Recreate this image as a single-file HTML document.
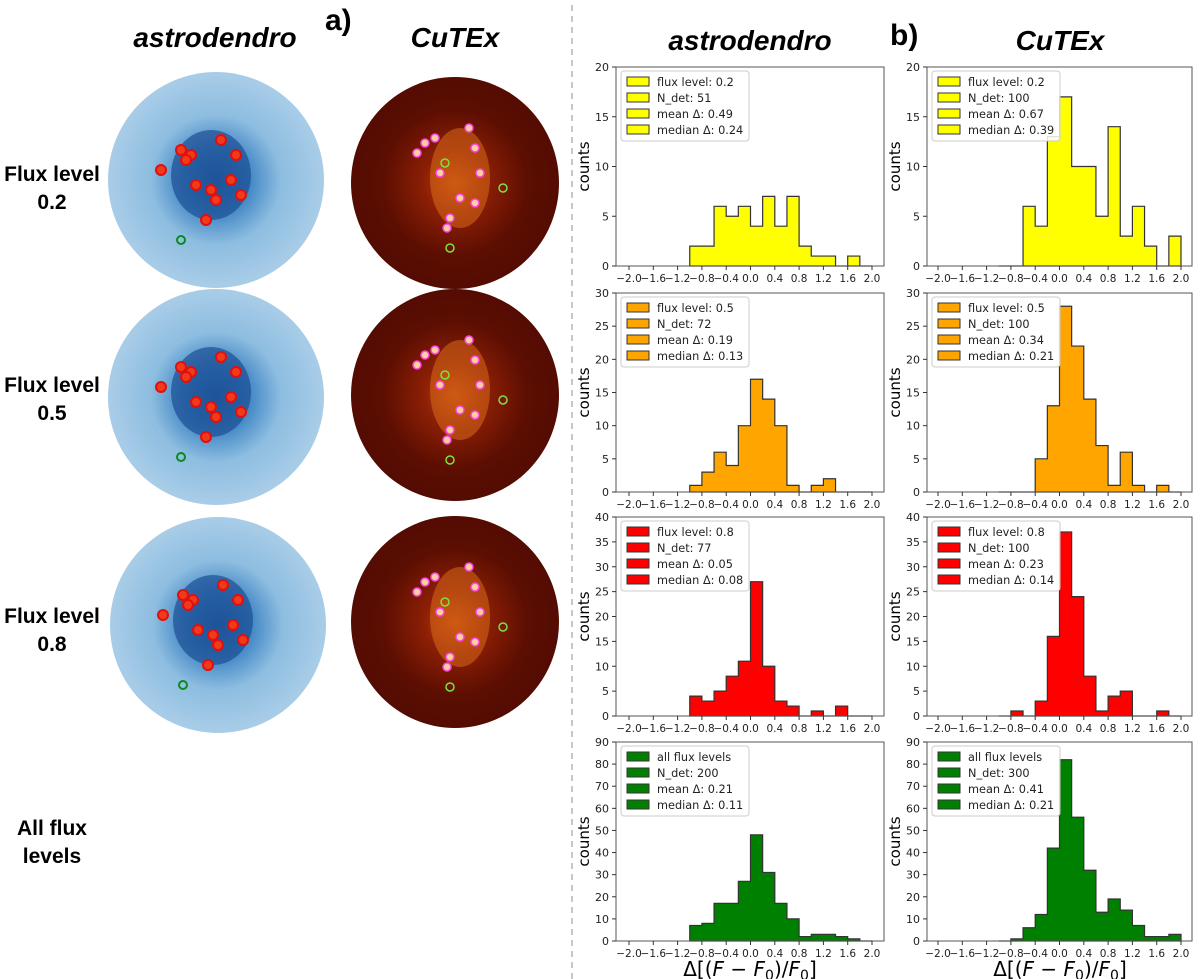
<!DOCTYPE html>
<html><head><meta charset="utf-8"><style>
body{margin:0;background:#fff;}
svg{display:block;font-family:"DejaVu Sans","Liberation Sans",sans-serif;}
.hd{font-family:"Liberation Sans",sans-serif;font-weight:bold;}
</style></head><body>
<svg id="fig" width="1200" height="979" viewBox="0 0 1200 979" xmlns="http://www.w3.org/2000/svg">
<defs>
<radialGradient id="blueG" cx="50%" cy="50%" r="50%">
<stop offset="0" stop-color="#1f5fa8"/><stop offset="0.3" stop-color="#3f85c4"/><stop offset="0.6" stop-color="#8dbde0"/><stop offset="1" stop-color="#a9cde8"/></radialGradient>
<radialGradient id="redG" cx="50%" cy="50%" r="50%">
<stop offset="0" stop-color="#c2460c"/><stop offset="0.3" stop-color="#8c1f05"/><stop offset="0.7" stop-color="#5c0e02"/><stop offset="1" stop-color="#540c02"/></radialGradient>
</defs>
<line x1="572" y1="5" x2="572" y2="979" stroke="#c8c8c8" stroke-width="2" stroke-dasharray="6,5"/>
<g class="hd" font-size="28">
<text x="215" y="47" text-anchor="middle" font-style="italic">astrodendro</text>
<text x="455" y="47" text-anchor="middle" font-style="italic">CuTEx</text>
<text x="325" y="30" font-size="30">a)</text>
<text x="750" y="50" text-anchor="middle" font-style="italic">astrodendro</text>
<text x="1060" y="50" text-anchor="middle" font-style="italic">CuTEx</text>
<text x="890" y="45" font-size="30">b)</text>
</g>
<g class="hd" font-size="21" text-anchor="middle">
<text x="52" y="181"><tspan x="52">Flux level</tspan><tspan x="52" dy="28">0.2</tspan></text>
<text x="52" y="392"><tspan x="52">Flux level</tspan><tspan x="52" dy="28">0.5</tspan></text>
<text x="52" y="623"><tspan x="52">Flux level</tspan><tspan x="52" dy="28">0.8</tspan></text>
<text x="52" y="835"><tspan x="52">All flux</tspan><tspan x="52" dy="28">levels</tspan></text>
</g>
<g id="images"></g>
<g id="charts"></g>
<text x="750" y="976" text-anchor="middle" font-size="20">Δ[(<tspan font-style="italic">F</tspan> − <tspan font-style="italic">F</tspan><tspan font-size="14" dy="4">0</tspan><tspan dy="-4">)/</tspan><tspan font-style="italic">F</tspan><tspan font-size="14" dy="4">0</tspan><tspan dy="-4">]</tspan></text>
<text x="1060" y="976" text-anchor="middle" font-size="20">Δ[(<tspan font-style="italic">F</tspan> − <tspan font-style="italic">F</tspan><tspan font-size="14" dy="4">0</tspan><tspan dy="-4">)/</tspan><tspan font-style="italic">F</tspan><tspan font-size="14" dy="4">0</tspan><tspan dy="-4">]</tspan></text>
</svg>
<script>
// bins: 15 bins of width 0.2 starting at -1.0
const binStart = -1.0;
const binWidth = 0.2;
const astro02 = [2,2,6,5,6,4,7,4,7,2,1,1,0,1,0];
const cutex02 = [0,0,6,4,13,17,10,10,5,14,3,6,2,0,3];
const astro05 = [1,3,6,4,10,17,14,10,1,0,1,2,0,0,0];
const cutex05 = [0,0,0,5,13,28,22,14,7,1,6,1,0,1,0];
const astro08 = [4,3,5,8,11,27,10,3,2,0,1,0,2,0,0];
const cutex08 = [0,1,0,3,16,37,24,8,1,4,5,0,0,1,0];
const astroAll = [7,8,17,17,27,48,31,17,10,2,3,3,2,1,0];
const cutexAll = [0,1,6,12,42,82,56,32,13,19,14,7,2,2,3];
const xTicks = [-2.0,-1.6,-1.2,-0.8,-0.4,0.0,0.4,0.8,1.2,1.6,2.0];
const yMaxes = [20,30,40,90];
const yStepList = [5,5,5,10];
const legendA = [["flux level: 0.2","N_det: 51","mean Δ: 0.49","median Δ: 0.24"],["flux level: 0.5","N_det: 72","mean Δ: 0.19","median Δ: 0.13"],["flux level: 0.8","N_det: 77","mean Δ: 0.05","median Δ: 0.08"],["all flux levels","N_det: 200","mean Δ: 0.21","median Δ: 0.11"]];
const legendC = [["flux level: 0.2","N_det: 100","mean Δ: 0.67","median Δ: 0.39"],["flux level: 0.5","N_det: 100","mean Δ: 0.34","median Δ: 0.21"],["flux level: 0.8","N_det: 100","mean Δ: 0.23","median Δ: 0.14"],["all flux levels","N_det: 300","mean Δ: 0.41","median Δ: 0.21"]];
const colors = ["#ffff00","#ffa500","#ff0000","#008000"];
const rowsData = [[astro02,cutex02],[astro05,cutex05],[astro08,cutex08],[astroAll,cutexAll]];

const NS="http://www.w3.org/2000/svg";
function mk(tag, attrs, parent){const e=document.createElementNS(NS,tag);for(const k in attrs)e.setAttribute(k,attrs[k]);parent.appendChild(e);return e;}
const charts=document.getElementById('charts');
const rowTops=[67,293,517,742];
const colDefs=[{x0:616,x1:884,t0:629,t1:872,name:'astrodendro'},{x0:927,x1:1192,t0:938,t1:1181,name:'cutex'}];
const H=199;
rowsData.forEach((pair,r)=>{
  pair.forEach((vals,c)=>{
    const cd=colDefs[c], top=rowTops[r], bot=top+H, ymax=yMaxes[r];
    const g=mk('g',{},charts);
    
    
    const xs=v=>cd.t0+(v+2)/4*(cd.t1-cd.t0);
    const ys=v=>bot-v/ymax*H;
    let d='M'+xs(binStart)+','+ys(0);
    vals.forEach((v,i)=>{const a=binStart+i*binWidth,b=a+binWidth;d+=' L'+xs(a)+','+ys(v)+' L'+xs(b)+','+ys(v);});
    d+=' L'+xs(binStart+vals.length*binWidth)+','+ys(0)+' Z';
    const p=mk('path',{d:d,fill:colors[r],stroke:'#333','stroke-width':1.2},g);
    
    
    const fr=mk('rect',{x:cd.x0,y:top,width:cd.x1-cd.x0,height:H,fill:'none',stroke:'#555','stroke-width':1},g);
    
    
    xTicks.forEach(t=>{
      const x=xs(t);
      mk('line',{x1:x,y1:bot,x2:x,y2:bot+4,stroke:'#333'},g);
      const tx=mk('text',{x:x,y:bot+16,'text-anchor':'middle','font-size':10.5,fill:'#222'},g);
      tx.textContent=(t<0?'−':'')+Math.abs(t).toFixed(1);
      
      
    });
    for(let v=0;v<=ymax;v+=yStepList[r]){
      const y=ys(v);
      mk('line',{x1:cd.x0-4,y1:y,x2:cd.x0,y2:y,stroke:'#333'},g);
      const ty=mk('text',{x:cd.x0-7,y:y+4,'text-anchor':'end','font-size':11,fill:'#222'},g);
      ty.textContent=v;
      
      
    }
    const yl=mk('text',{x:0,y:0,'font-size':15,'text-anchor':'middle',transform:'translate('+(cd.x0-27)+','+(top+H/2)+') rotate(-90)'},g);
    yl.textContent='counts';
    
    
    const lg=mk('g',{},g);
    
    
    const labels=(c===0?legendA:legendC)[r];
    mk('rect',{x:cd.x0+5,y:top+4,width:128,height:70,rx:3,fill:'#fff',stroke:'#ccc','fill-opacity':0.85},lg);
    labels.forEach((lab,i)=>{
      const ly=top+10+i*16;
      mk('rect',{x:cd.x0+11,y:ly,width:22,height:9,fill:colors[r],stroke:'#333','stroke-width':1},lg);
      const lt=mk('text',{x:cd.x0+41,y:ly+9,'font-size':11.3,fill:'#222'},lg);
      lt.textContent=lab;
      
      
    });
  });
});
const imgs=document.getElementById('images');
const blueCenters=[[216,180],[216,397],[218,625]];
const redCenters=[[455,183],[455,395],[455,622]];
const blobs=[[-55,-10],[-35,-30],[-25,-25],[5,-40],[20,-25],[15,0],[-20,5],[-5,10],[25,15],[-10,40],[0,20],[-30,-20]];
blueCenters.forEach((c,i)=>{
  const g=mk('g',{},imgs);
  
  
  mk('ellipse',{cx:c[0],cy:c[1],rx:108,ry:108,fill:'url(#blueG)'},g);
  mk('ellipse',{cx:c[0]-5,cy:c[1]-5,rx:40,ry:45,fill:'#1c4f94',opacity:0.7},g);
  blobs.forEach(b=>{mk('circle',{cx:c[0]+b[0],cy:c[1]+b[1],r:5,fill:'#f03a1a',stroke:'#e01010','stroke-width':2},g);});
  mk('circle',{cx:c[0]-35,cy:c[1]+60,r:4,fill:'none',stroke:'#0a8a20','stroke-width':2},g);
});
redCenters.forEach((c,i)=>{
  const g=mk('g',{},imgs);
  
  
  mk('ellipse',{cx:c[0],cy:c[1],rx:104,ry:106,fill:'url(#redG)'},g);
  mk('ellipse',{cx:c[0]+5,cy:c[1]-5,rx:30,ry:50,fill:'#d86a1a',opacity:0.55},g);
  [[-20,-45],[-30,-40],[14,-55],[-38,-30],[20,-35],[25,-10],[5,15],[-5,35],[-15,-10],[20,20],[-8,45]].forEach(b=>{
    mk('circle',{cx:c[0]+b[0],cy:c[1]+b[1],r:4,fill:'#ffd0a0',stroke:'#ff40e0','stroke-width':1.5},g);});
  [[-5,65],[48,5],[-10,-20]].forEach(b=>{mk('circle',{cx:c[0]+b[0],cy:c[1]+b[1],r:4,fill:'none',stroke:'#80e040','stroke-width':1.5},g);});
});
</script>
</body></html>
